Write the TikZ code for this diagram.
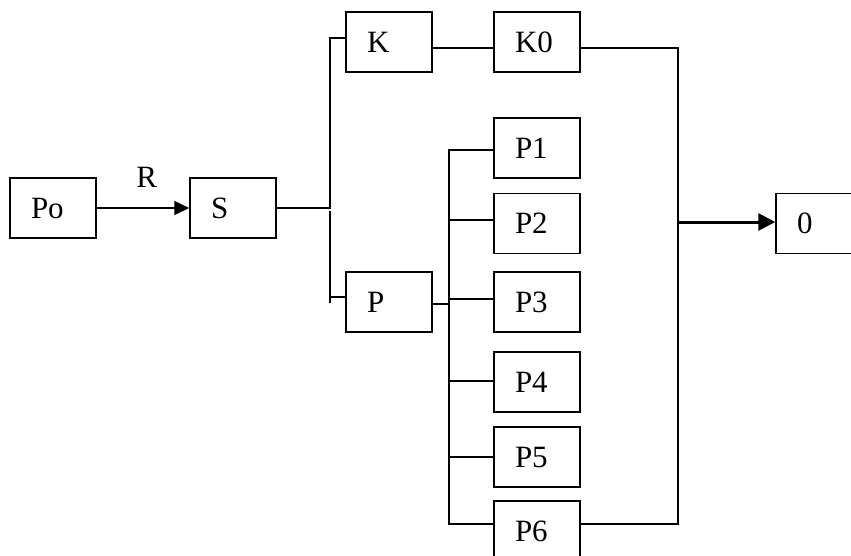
\documentclass[tikz,border=0pt]{standalone}
\usepackage{fontspec}
\setmainfont{Liberation Serif}
\usetikzlibrary{arrows.meta}
\begin{document}
\begin{tikzpicture}[x=1pt,y=-1pt,
  box/.style={draw, line width=1.5pt, minimum width=86pt, minimum height=60pt,
    text width=44pt, inner xsep=21pt, inner ysep=0pt, align=left,
    font=\fontsize{31}{36}\selectfont, text height=20.5pt, text depth=0pt},
  lbl/.style={inner sep=0pt, font=\fontsize{31}{36}\selectfont, text height=20.5pt, text depth=0pt},
  wire/.style={line width=1.4pt, line join=miter},
  tip/.style={-{Triangle[length=15pt,width=14pt]}},
]
\clip (0,0) rectangle (851,555);
\fill[white] (0,0) rectangle (851,555);

% blocks
\node[box] (Po) at (53,208)  {Po};
\node[box] (S)  at (233,208) {S};
\node[box] (K)  at (389,42)  {K};
\node[box] (K0) at (537,42)  {K0};
\node[box] (P)  at (389,302) {P};
\node[box] (P1) at (537,148) {P1};
\node[box] (P2) at (537,223.5) {P2};
\node[box] (P3) at (537,302) {P3};
\node[box] (P4) at (537,382) {P4};
\node[box] (P5) at (537,457) {P5};
\node[box] (P6) at (537,531) {P6};
\node[box] (O)  at (819,223.5) {0};

% junction points
\coordinate (sk)  at (330,208);
\coordinate (spa) at (330,211);
\coordinate (spb) at (330,303);
\coordinate (spc) at (330,297);
\coordinate (pb)  at (449,304);
\coordinate (rb)  at (678,222);

% Po -> S
\draw[line width=2.4pt] (Po.east) -- ++(21,0);
\draw[wire, tip] (Po) -- node[lbl, pos=0.54, yshift=31pt] (R) {R} (S);

% S -> K and S -> P
\draw[wire] (S.east) -- (sk) |- ([yshift=4pt]K.west);
\draw[wire] (spa) -- (spb);
\draw[wire] (spc) -- ([yshift=5pt]P.west);

% K -> K0
\draw[wire] ([yshift=-6pt]K.east) -- ([yshift=-6pt]K0.west);

% P -> P1..P6
\draw[wire] ([yshift=-2pt]P.east) -- (pb);
\draw[wire] (pb) |- ([yshift=-2pt]P1.west);
\draw[wire] (pb) |- ([yshift=3.5pt]P2.west);
\draw[wire] (pb) |- ([yshift=3pt]P3.west);
\draw[wire] (pb) |- ([yshift=1pt]P4.west);
\draw[wire] (pb) |- (P5.west);
\draw[wire] (pb) |- ([yshift=7pt]P6.west);

% collector to 0
\draw[wire, line width=1.8pt] ([yshift=-6pt]K0.east) -| (rb);
\draw[wire, line width=1.8pt] ([yshift=7pt]P6.east) -| (rb);
\draw[line width=3pt, -{Triangle[length=17pt,width=17pt]}] (rb) -- (O.west |- rb);
\end{tikzpicture}
\end{document}
